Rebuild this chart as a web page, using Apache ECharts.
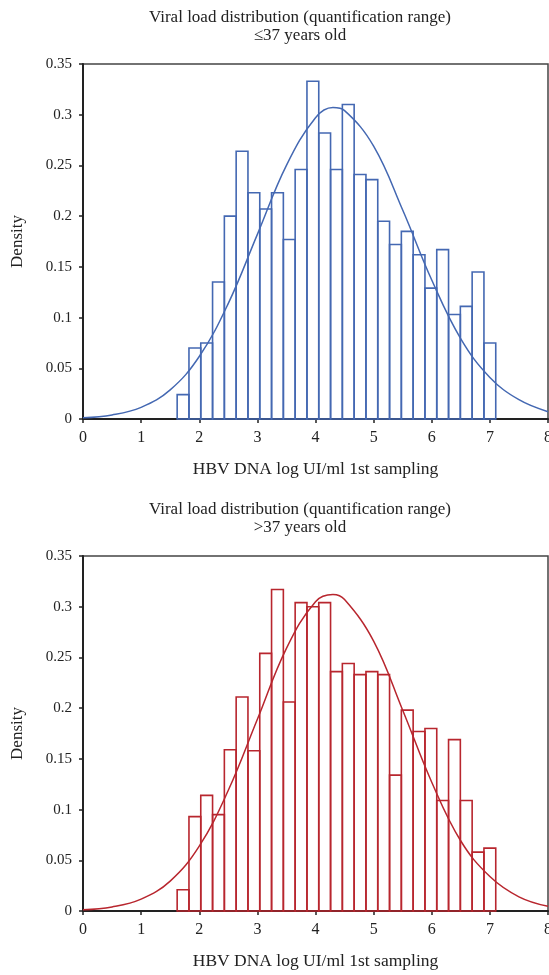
<!DOCTYPE html>
<html>
<head>
<meta charset="utf-8">
<script src="https://cdn.jsdelivr.net/npm/echarts@6/dist/echarts.min.js"></script>
<style>
html,body{margin:0;padding:0;background:#fff;}
#chart{width:549px;height:975px;}
</style>
</head>
<body>
<div id="chart"></div>
<script>
// ---- data ----
const titleText = "Viral load distribution (quantification range)";
const groupLabels = ["≤37 years old", ">37 years old"];
const xAxisName = "HBV DNA log UI/ml 1st sampling";
const yAxisName = "Density";
const xTicks = [0, 1, 2, 3, 4, 5, 6, 7, 8];
const yTicks = [0, 0.05, 0.1, 0.15, 0.2, 0.25, 0.3, 0.35];

// histogram bins (27 bins)
const binStart = 1.62;
const binWidth = 0.203;

const densityYoung = [0.024, 0.070, 0.075, 0.135, 0.200, 0.264, 0.223, 0.207, 0.223, 0.177,
  0.246, 0.333, 0.282, 0.246, 0.310, 0.241, 0.236, 0.195, 0.172, 0.185,
  0.162, 0.129, 0.167, 0.103, 0.111, 0.145, 0.075];
const densityOld = [0.021, 0.093, 0.114, 0.095, 0.159, 0.211, 0.158, 0.254, 0.317, 0.206,
  0.304, 0.300, 0.304, 0.236, 0.244, 0.233, 0.236, 0.233, 0.134, 0.198,
  0.177, 0.180, 0.109, 0.169, 0.109, 0.058, 0.062];

// fitted normal curves
const curveX = [0, 0.5, 1, 1.5, 2, 2.5, 3, 3.5, 4, 4.3, 4.5, 5, 5.5, 6, 6.5, 7, 7.5, 8];
const curveYoung = [0.0012, 0.0040, 0.0115, 0.0287, 0.0616, 0.114, 0.182, 0.250, 0.297, 0.307, 0.304, 0.269, 0.206, 0.137, 0.079, 0.041, 0.019, 0.0072];
const curveOld = [0.0012, 0.0040, 0.0117, 0.0295, 0.0639, 0.119, 0.189, 0.259, 0.305, 0.312, 0.307, 0.266, 0.198, 0.127, 0.069, 0.034, 0.014, 0.0046];

// ---- chart ----
const SERIF = "'Liberation Serif', 'DejaVu Serif', serif";
const blue = '#4468b2';
const red = '#b8262e';
const ink = '#222';

function histData(vals) {
  return vals.map((v, i) => [binStart + i * binWidth, binStart + (i + 1) * binWidth, v]);
}
function lineData(ys) {
  return curveX.map((x, i) => [x, ys[i]]);
}
function renderBar(color) {
  return function (params, api) {
    const p0 = api.coord([api.value(0), api.value(2)]);
    const p1 = api.coord([api.value(1), 0]);
    return {
      type: 'rect',
      shape: { x: p0[0], y: p0[1], width: p1[0] - p0[0], height: p1[1] - p0[1] },
      style: { fill: 'rgba(255,255,255,0)', stroke: color, lineWidth: 1.6 }
    };
  };
}

const grids = [
  { left: 83, top: 64, width: 465, height: 355 },
  { left: 83, top: 556, width: 465, height: 355 }
];

function xAxisFor(i) {
  return {
    gridIndex: i, type: 'value', min: xTicks[0], max: xTicks[xTicks.length - 1], interval: 1,
    name: xAxisName, nameLocation: 'middle', nameGap: 41,
    nameTextStyle: { fontFamily: SERIF, fontSize: 17.5, color: ink },
    axisLine: { lineStyle: { color: ink, width: 2 } },
    axisTick: { show: true, length: 4, lineStyle: { color: ink, width: 1.5 } },
    axisLabel: { fontFamily: SERIF, fontSize: 16, color: ink, margin: 11 },
    splitLine: { show: false }
  };
}
function yAxisFor(i) {
  return {
    gridIndex: i, type: 'value', min: yTicks[0], max: yTicks[yTicks.length - 1], interval: 0.05,
    name: yAxisName, nameLocation: 'middle', nameGap: 57, nameRotate: 90,
    nameTextStyle: { fontFamily: SERIF, fontSize: 17, color: ink },
    axisLine: { show: true, lineStyle: { color: ink, width: 2 } },
    axisTick: { show: true, length: 4, lineStyle: { color: ink, width: 1.5 } },
    axisLabel: { fontFamily: SERIF, fontSize: 15, color: ink, margin: 11,
      formatter: v => String(Math.round(v * 100) / 100) },
    splitLine: { show: false }
  };
}

const option = {
  backgroundColor: '#fff',
  animation: false,
  title: [
    { text: titleText + '\n' + groupLabels[0], left: 295, top: 4, textAlign: 'center',
      textStyle: { fontFamily: SERIF, fontSize: 17, fontWeight: 'normal', color: ink, lineHeight: 18 } },
    { text: titleText + '\n' + groupLabels[1], left: 295, top: 496, textAlign: 'center',
      textStyle: { fontFamily: SERIF, fontSize: 17, fontWeight: 'normal', color: ink, lineHeight: 18 } }
  ],
  grid: grids.map(g => Object.assign({ show: true, borderColor: '#444', borderWidth: 1.5,
    backgroundColor: '#fff', containLabel: false, outerBoundsMode: 'none' }, g)),
  xAxis: [xAxisFor(0), xAxisFor(1)],
  yAxis: [yAxisFor(0), yAxisFor(1)],
  series: [
    { type: 'custom', xAxisIndex: 0, yAxisIndex: 0, renderItem: renderBar(blue),
      encode: { x: [0, 1], y: 2 }, data: histData(densityYoung), z: 2 },
    { type: 'line', xAxisIndex: 0, yAxisIndex: 0, data: lineData(curveYoung), smooth: 0.4,
      showSymbol: false, lineStyle: { color: blue, width: 1.5 }, z: 3 },
    { type: 'custom', xAxisIndex: 1, yAxisIndex: 1, renderItem: renderBar(red),
      encode: { x: [0, 1], y: 2 }, data: histData(densityOld), z: 2 },
    { type: 'line', xAxisIndex: 1, yAxisIndex: 1, data: lineData(curveOld), smooth: 0.4,
      showSymbol: false, lineStyle: { color: red, width: 1.5 }, z: 3 }
  ]
};

const chart = echarts.init(document.getElementById('chart'), null, { renderer: 'canvas' });
chart.setOption(option);
</script>
</body>
</html>
